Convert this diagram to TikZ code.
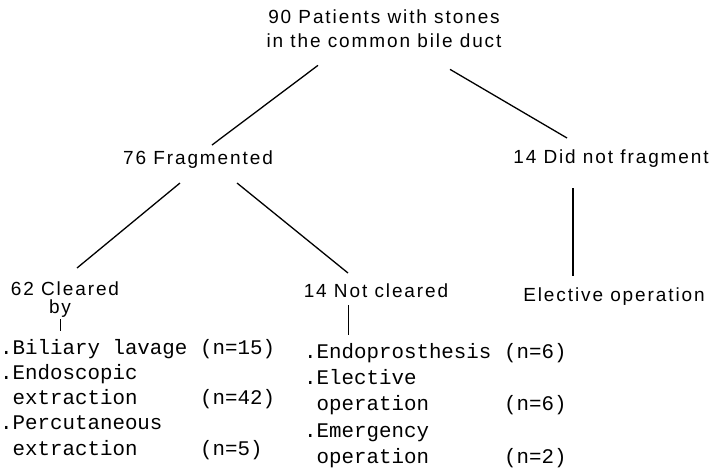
\documentclass[tikz,border=0pt]{standalone}
\usepackage{fontspec}
\usepackage{tikz}
\newfontfamily\lbfont[LetterSpace=10]{Liberation Sans}
\newfontfamily\tyfont{Liberation Mono}
\newcommand{\tcol}[2]{\makebox[200pt][l]{#1}#2}

\begin{document}
\begin{tikzpicture}[x=1pt,y=-1pt]
    \tikzset{lbl/.style={font=\lbfont\fontsize{19}{24}\selectfont, inner sep=0pt, anchor=base},
             typed/.style={font=\tyfont\fontsize{20.8}{25}\selectfont, inner sep=0pt, anchor=base west},
             branch/.style={line width=1.3pt},
             tick/.style={line width=0.8pt}}
    \useasboundingbox[fill=white] (0,0) rectangle (714,472);

    \node[lbl, anchor=north, align=center] (top) at (384,10) {90 Patients with stones\\in the common bile duct};
    \node[lbl] (frag) at (198,164) {76 Fragmented};
    \node[lbl] (nofrag) at (611,163) {14 Did not fragment};
    \node[lbl] (cleared) at (65,295) {62 Cleared};
    \node[lbl] (by) at (60,313) {by};
    \node[lbl] (notcl) at (376,297) {14 Not cleared};
    \node[lbl] (elect) at (614,301) {Elective operation};

    % cleared by
    \node[typed] (lb1) at (0,354) {\tcol{.Biliary lavage}{(n=15)}};
    \node[typed] (lb2) at (0,379) {.Endoscopic};
    \node[typed] (lb3) at (12.5,404) {\tcol{extraction}{\hspace{-12.5pt}(n=42)}};
    \node[typed] (lb4) at (0,429) {.Percutaneous};
    \node[typed] (lb5) at (12.5,455) {\tcol{extraction}{\hspace{-12.5pt}(n=5)}};

    % not cleared
    \node[typed] (rb1) at (304,358) {\tcol{.Endoprosthesis}{(n=6)}};
    \node[typed] (rb2) at (304,384) {.Elective};
    \node[typed] (rb3) at (316.5,410) {\tcol{operation}{\hspace{-12.5pt}(n=6)}};
    \node[typed] (rb4) at (304,437) {.Emergency};
    \node[typed] (rb5) at (316.5,463) {\tcol{operation}{\hspace{-12.5pt}(n=2)}};

    \draw[branch] ([shift={(-66,17)}]top.south) -- ([shift={(14,-19)}]frag.base);
    \draw[branch] ([shift={(66,21)}]top.south) -- ([shift={(-44,-25)}]nofrag.base);
    \draw[branch] ([shift={(-18,19)}]frag.base) -- ([shift={(12,-27)}]cleared.base);
    \draw[branch] ([shift={(39,19)}]frag.base) -- ([shift={(-28,-24)}]notcl.base);
    \draw[branch] ([shift={(-38,25)}]nofrag.base) -- ([shift={(-41,-25)}]elect.base);
    \draw[tick] ([shift={(0,6)}]by.base) -- ([shift={(60,-23)}]lb1.base west);
    \draw[tick] ([shift={(-28,8)}]notcl.base) -- ([shift={(44,-23)}]rb1.base west);
\end{tikzpicture}
\end{document}
